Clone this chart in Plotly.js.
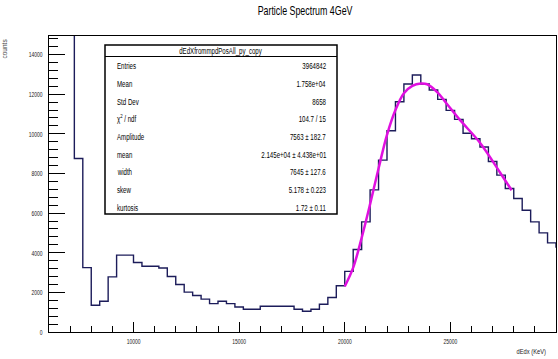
<!DOCTYPE html>
<html><head><meta charset="utf-8">
<script src="https://cdn.plot.ly/plotly-3.0.1.min.js"></script>
<style>html,body{margin:0;padding:0;background:#fff}#chart{width:558px;height:359px}</style>
</head><body><div id="chart"></div>
<script>
// ---- data ----
const binLow = [6000,6400,6800,7200,7600,8000,8400,8800,9200,9600,
  10000,10400,10800,11200,11600,12000,12400,12800,13200,13600,
  14000,14400,14800,15200,15600,16000,16400,16800,17200,17600,
  18000,18400,18800,19200,19600,20000,20400,20800,21200,21600,
  22000,22400,22800,23200,23600,24000,24400,24800,25200,25600,
  26000,26400,26800,27200,27600,28000,28400,28800,29200,29600,30000];
const counts = [40000,30000,20000,8750,3250,1350,1550,2780,3880,3880,
  3505,3320,3320,3230,2800,2400,2010,1840,1660,1434,
  1550,1434,1263,1146,1146,1300,1300,1300,1300,1146,
  1045,1146,1399,1737,2330,3060,4160,5556,7170,8672,
  10152,11616,12510,12965,12510,12207,11737,11180,10727,10030,
  9750,9330,8600,7914,7242,6737,6146,5556,5000,4495,4290];
const fitX = [20000,20400,20800,21200,21600,22000,22400,22800,23200,23600,23900,24400,24800,25450,26400,27350,27900];
const fitY = [2300,3250,4750,6450,8250,9950,11200,12050,12420,12540,12500,12080,11550,10700,9550,8050,7150];
const chartTitle = "Particle Spectrum 4GeV";
const xTitle = "dEdx (KeV)";
const yTitle = "counts";
const statsTitle = "dEdXfrommpdPosAll_py_copy";
const statLabels = ["Entries","Mean","Std Dev","\u03C7<sup>2</sup> / ndf","Amplitude","mean","width","skew","kurtosis"];
const statValues = ["3964842","1.758e+04","8658","104.7 / 15","7563 \u00B1 182.7","2.145e+04 \u00B1 4.438e+01","7645 \u00B1 127.6","5.178 \u00B1 0.223","1.72 \u00B1 0.11"];
const xTickVals = [10000,15000,20000,25000,30000];
const yTickVals = [0,2000,4000,6000,8000,10000,12000,14000];

// ---- layout helpers ----
const W = 558, H = 359;
const mL = 49, mR = 2, mT = 36, mB = 27;
const pw = W - mL - mR, ph = H - mT - mB;
const px = X => (X - mL) / pw;
const py = Y => (H - mB - Y) / ph;
const FONT = "'Liberation Sans', Arial, Helvetica, sans-serif";

const hx = binLow.slice(); const hy = counts.slice();
hx.push(binLow[binLow.length-1] + (binLow[1]-binLow[0])); hy.push(counts[counts.length-1]);

const traces = [
  {x: hx, y: hy, type: 'scatter', mode: 'lines', line: {shape: 'hv', color: '#1c1c5a', width: 1.4}, hoverinfo: 'skip'},
  {x: fitX, y: fitY, type: 'scatter', mode: 'lines', line: {shape: 'spline', color: '#e010e0', width: 2.5}, hoverinfo: 'skip'}
];

const shapes = [
  {type: 'rect', xref: 'paper', yref: 'paper', x0: px(105), x1: px(337), y0: py(214), y1: py(45),
   line: {color: '#000', width: 1.5}, fillcolor: '#fff', layer: 'above'},
  {type: 'line', xref: 'paper', yref: 'paper', x0: px(105), x1: px(337), y0: py(56.5), y1: py(56.5),
   line: {color: '#000', width: 1}, layer: 'above'}
];
const annotations = [
  {text: statsTitle, xref: 'paper', yref: 'paper', x: px(221), y: py(50.5), xanchor: 'center', yanchor: 'middle', showarrow: false, font: {family: FONT, size: 8.5, color: '#000'}},
  {text: yTitle, xref: 'paper', yref: 'paper', x: px(3.5), y: py(37), xanchor: 'center', yanchor: 'top', textangle: -90, showarrow: false, font: {family: FONT, size: 6.5, color: '#444'}},
  {text: xTitle, xref: 'paper', yref: 'paper', x: px(548), y: py(351), xanchor: 'right', yanchor: 'middle', showarrow: false, font: {family: FONT, size: 8, color: '#222'}}
];
const rowY = [66, 84, 101.5, 119, 137, 154.5, 172, 190, 207.5];
statLabels.forEach((t, i) => {
  annotations.push({text: t, xref: 'paper', yref: 'paper', x: px(115), y: py(rowY[i]), xanchor: 'left', yanchor: 'middle', showarrow: false, font: {family: FONT, size: 8.5, color: '#000'}});
  annotations.push({text: statValues[i], xref: 'paper', yref: 'paper', x: px(328), y: py(rowY[i]), xanchor: 'right', yanchor: 'middle', showarrow: false, font: {family: FONT, size: 8.5, color: '#000'}});
});

const layout = {
  width: W, height: H,
  margin: {l: mL, r: mR, t: mT, b: mB, pad: 0},
  paper_bgcolor: '#fff', plot_bgcolor: '#fff',
  showlegend: false,
  title: {text: chartTitle, x: px(305), xref: 'paper', xanchor: 'center', y: 1 - 10/H, yref: 'container', yanchor: 'middle',
          font: {family: FONT, size: 13, color: '#000'}},
  xaxis: {range: [6000, 30000], showgrid: false, zeroline: false, showline: true, linecolor: '#000', linewidth: 1, mirror: true,
          ticks: 'inside', ticklen: 10, tickcolor: '#000', tickwidth: 1, tickvals: xTickVals, ticktext: xTickVals.map(String),
          minor: {dtick: 1000, tick0: 0, ticks: 'inside', ticklen: 6, tickcolor: '#000'},
          tickfont: {family: FONT, size: 8, color: '#222'}, ticklabelstandoff: 1},
  yaxis: {range: [0, 14934], showgrid: false, zeroline: false, showline: true, linecolor: '#000', linewidth: 1, mirror: true,
          ticks: 'inside', ticklen: 16, tickcolor: '#000', tickwidth: 1, tickvals: yTickVals, ticktext: yTickVals.map(String),
          minor: {dtick: 400, tick0: 0, ticks: 'inside', ticklen: 9, tickcolor: '#000'},
          tickfont: {family: FONT, size: 8, color: '#222'}, ticklabelstandoff: 4},
  shapes: shapes,
  annotations: annotations
};

// horizontally condense text (the reference glyphs are narrow), keeping each text's anchor edge in place
function squeeze(t, f, anchor) {
  const w = t.getComputedTextLength();
  if (!w) return;
  const b0 = t.getBBox();
  t.setAttribute('lengthAdjust', 'spacingAndGlyphs');
  t.setAttribute('textLength', (w * f).toFixed(2));
  const b1 = t.getBBox();
  let shift = 0;
  if (anchor === 'left') shift = b0.x - b1.x;
  else if (anchor === 'right') shift = (b0.x + b0.width) - (b1.x + b1.width);
  else if (anchor === 'center') shift = (b0.x + b0.width / 2) - (b1.x + b1.width / 2);
  if (Math.abs(shift) > 0.01) {
    const cur = parseFloat(t.getAttribute('x') || '0');
    t.setAttribute('x', (cur + shift).toFixed(2));
  }
}

Plotly.newPlot('chart', traces, layout, {displayModeBar: false, staticPlot: true}).then(gd => {
  gd.querySelectorAll('.gtitle').forEach(t => squeeze(t, 0.68, 'center'));
  gd.querySelectorAll('.xtick text').forEach(t => squeeze(t, 0.62, 'center'));
  gd.querySelectorAll('.ytick text').forEach(t => squeeze(t, 0.62, 'right'));
  gd.querySelectorAll('g.annotation').forEach(g => {
    const i = parseInt(g.getAttribute('data-index'), 10);
    const a = layout.annotations[i];
    if (!a || a.textangle) return;
    const t = g.querySelector('text.annotation-text');
    if (t) squeeze(t, 0.72, a.xanchor);
  });
});
</script>
</body></html>
